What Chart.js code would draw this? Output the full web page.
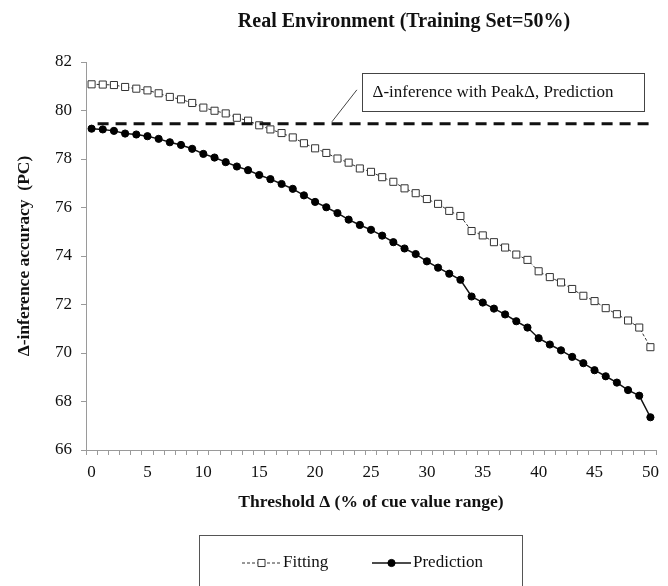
<!DOCTYPE html>
<html>
<head>
<meta charset="utf-8">
<script src="https://cdn.jsdelivr.net/npm/chart.js@4/dist/chart.umd.min.js"></script>
<style>
	html, body { margin: 0; padding: 0; background: #fff; }
</style>
</head>
<body>
<canvas id="canvas" width="668" height="586"></canvas>
<script>
const thresholds = [
	0, 1, 2, 3, 4, 5, 6, 7, 8, 9, 10, 11, 12, 13, 14, 15, 16, 17, 18, 19, 20,
	21, 22, 23, 24, 25, 26, 27, 28, 29, 30, 31, 32, 33, 34, 35, 36, 37, 38, 39, 40,
	41, 42, 43, 44, 45, 46, 47, 48, 49, 50,
];

const fitting = [
	81.08, 81.07, 81.05, 80.97, 80.90, 80.83, 80.71, 80.56, 80.46, 80.31, 80.12,
	79.99, 79.88, 79.70, 79.58, 79.39, 79.22, 79.07, 78.89, 78.65, 78.44,
	78.25, 78.02, 77.85, 77.61, 77.47, 77.25, 77.06, 76.79, 76.59, 76.35,
	76.15, 75.86, 75.65, 75.03, 74.85, 74.57, 74.35, 74.06, 73.84, 73.37,
	73.13, 72.91, 72.64, 72.36, 72.14, 71.85, 71.60, 71.34, 71.05, 70.24,
];

const prediction = [
	79.25, 79.22, 79.16, 79.05, 79.01, 78.94, 78.83, 78.69, 78.58, 78.42, 78.21,
	78.06, 77.87, 77.69, 77.54, 77.34, 77.17, 76.97, 76.77, 76.50, 76.23,
	76.01, 75.77, 75.50, 75.28, 75.08, 74.84, 74.57, 74.31, 74.08, 73.78,
	73.52, 73.27, 73.02, 72.33, 72.08, 71.83, 71.59, 71.31, 71.05, 70.61,
	70.35, 70.11, 69.84, 69.58, 69.29, 69.04, 68.78, 68.47, 68.24, 67.35,
];

// accuracy of Δ-inference using the peak threshold (prediction)
const peakPrediction = 79.45;

const chartTitle = "Real Environment (Training Set=50%)";
const xTitle = "Threshold \u0394 (% of cue value range)";
const yTitle = "\u0394-inference accuracy  (PC)";
const peakNote = "\u0394-inference with Peak\u0394, Prediction";

const serif = '"Liberation Serif", "Times New Roman", serif';
const axisGrey = "#9a9a9a";
const labels = thresholds.map(String);

const titlePlugin = {
	id: "topTitle",
	afterDraw(chart) {
		const ctx = chart.ctx;
		ctx.save();
		ctx.font = `bold 20px ${serif}`;
		ctx.fillStyle = "#111";
		ctx.textAlign = "center";
		ctx.textBaseline = "middle";
		ctx.fillText(chartTitle, 404, 22);
		ctx.restore();
	},
};

const notePlugin = {
	id: "peakNote",
	afterDraw(chart) {
		const { ctx, scales } = chart;
		const ax = scales.x.getPixelForValue(21.5);
		const ay = scales.y.getPixelForValue(peakPrediction) - 2;
		ctx.save();
		ctx.strokeStyle = "#444";
		ctx.lineWidth = 1;
		ctx.beginPath();
		ctx.moveTo(ax, ay);
		ctx.lineTo(ax + 25, ay - 32);
		ctx.stroke();

		const bx = Math.round(ax + 30) + 0.5;
		const by = Math.round(ay - 49) + 0.5;
		ctx.fillStyle = "#fff";
		ctx.fillRect(bx, by, 282, 38);
		ctx.strokeRect(bx, by, 282, 38);
		ctx.fillStyle = "#111";
		ctx.font = `17px ${serif}`;
		ctx.textBaseline = "middle";
		ctx.fillText(peakNote, bx + 10, by + 19);
		ctx.restore();
	},
};

function drawMarker(ctx, ds, x, y) {
	ctx.lineWidth = ds.pointBorderWidth;
	ctx.strokeStyle = ds.pointBorderColor;
	ctx.fillStyle = ds.pointBackgroundColor;
	ctx.beginPath();
	if (ds.pointStyle === "rect") {
		const s = ds.pointRadius * Math.SQRT1_2;
		ctx.rect(x - s, y - s, s * 2, s * 2);
	} else {
		ctx.arc(x, y, ds.pointRadius, 0, Math.PI * 2);
	}
	ctx.fill();
	ctx.stroke();
}

const legendPlugin = {
	id: "boxLegend",
	afterDraw(chart) {
		const ctx = chart.ctx;
		const entries = chart.data.datasets.filter((ds) => ds.inLegend);
		ctx.save();
		ctx.strokeStyle = "#555";
		ctx.lineWidth = 1;
		ctx.strokeRect(199.5, 535.5, 323, 80);

		ctx.font = `17px ${serif}`;
		ctx.textBaseline = "middle";
		const y = 563;
		const positions = [242, 372];
		entries.forEach((ds, i) => {
			const x0 = positions[i];
			ctx.strokeStyle = ds.borderColor;
			ctx.lineWidth = ds.borderWidth;
			ctx.setLineDash(ds.borderDash || []);
			ctx.beginPath();
			ctx.moveTo(x0, y);
			ctx.lineTo(x0 + 39, y);
			ctx.stroke();
			ctx.setLineDash([]);
			drawMarker(ctx, ds, x0 + 19.5, y);
			ctx.fillStyle = "#111";
			ctx.fillText(ds.label, x0 + 41, y);
		});
		ctx.restore();
	},
};

new Chart(document.getElementById("canvas").getContext("2d"), {
	type: "line",
	data: {
		labels: labels,
		datasets: [
			{
				label: "Peak",
				data: [
					{ x: labels[0], y: peakPrediction },
					{ x: labels[labels.length - 1], y: peakPrediction },
				],
				borderColor: "#111",
				borderWidth: 3,
				borderDash: [11, 7],
				borderDashOffset: -6,
				pointRadius: 0,
				fill: false,
				inLegend: false,
			},
			{
				label: "Fitting",
				data: fitting,
				borderColor: "#333",
				borderWidth: 1,
				borderDash: [3, 2],
				pointStyle: "rect",
				pointRadius: 5,
				pointBorderWidth: 1,
				pointBorderColor: "#333",
				pointBackgroundColor: "#fff",
				fill: false,
				inLegend: true,
			},
			{
				label: "Prediction",
				data: prediction,
				borderColor: "#111",
				borderWidth: 1.5,
				pointStyle: "circle",
				pointRadius: 3.6,
				pointBorderWidth: 1,
				pointBorderColor: "#000",
				pointBackgroundColor: "#000",
				fill: false,
				inLegend: true,
			},
		],
	},
	options: {
		responsive: false,
		animation: false,
		devicePixelRatio: 1,
		layout: { padding: { left: 0, top: 62, right: 12, bottom: 70 } },
		plugins: {
			legend: { display: false },
			title: { display: false },
			tooltip: { enabled: false },
		},
		scales: {
			x: {
				type: "category",
				offset: true,
				afterFit: (scale) => { scale.height = 66; },
				grid: {
					offset: true,
					drawOnChartArea: false,
					drawTicks: true,
					tickLength: 5,
					color: axisGrey,
				},
				border: { color: axisGrey, width: 1 },
				ticks: {
					autoSkip: false,
					maxRotation: 0,
					padding: 7,
					color: "#111",
					font: { family: serif, size: 17 },
					callback: function (val, i) {
						return i % 5 === 0 ? this.getLabelForValue(val) : "";
					},
				},
				title: {
					display: true,
					text: xTitle,
					color: "#111",
					font: { family: serif, size: 17.5, weight: "bold" },
					padding: { top: 0, bottom: 3 },
				},
			},
			y: {
				min: 66,
				max: 82,
				afterFit: (scale) => { scale.width = 86; },
				grid: {
					drawOnChartArea: false,
					drawTicks: true,
					tickLength: 5,
					color: axisGrey,
				},
				border: { color: axisGrey, width: 1 },
				ticks: {
					stepSize: 2,
					padding: 9,
					color: "#111",
					font: { family: serif, size: 17 },
				},
				title: {
					display: true,
					text: yTitle,
					color: "#111",
					font: { family: serif, size: 17.5, weight: "bold" },
					padding: { top: 14, bottom: 0 },
				},
			},
		},
	},
	plugins: [titlePlugin, notePlugin, legendPlugin],
});
</script>
</body>
</html>
